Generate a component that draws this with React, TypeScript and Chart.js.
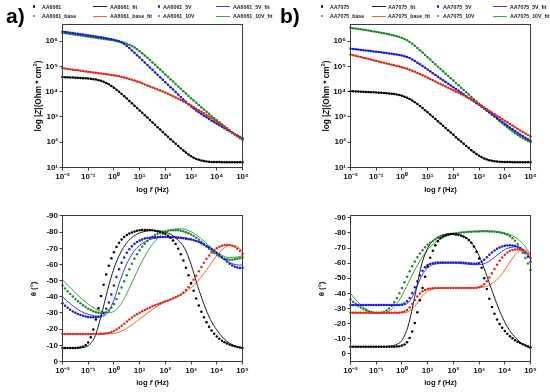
import React, { useEffect, useRef } from 'react';
import { Chart, registerables } from 'chart.js';

Chart.register(...registerables);

// ---------- data ----------
// log10 of frequency (Hz), measured points (10 per decade)
const LOG_F = [-2,-1.9,-1.8,-1.7,-1.6,-1.5,-1.4,-1.3,-1.2,-1.1,-1,-0.9,-0.8,-0.7,-0.6,-0.5,-0.4,-0.3,-0.2,-0.1,0,0.1,0.2,0.3,0.4,0.5,0.6,0.7,0.8,0.9,1,1.1,1.2,1.3,1.4,1.5,1.6,1.7,1.8,1.9,2,2.1,2.2,2.3,2.4,2.5,2.6,2.7,2.8,2.9,3,3.1,3.2,3.3,3.4,3.5,3.6,3.7,3.8,3.9,4,4.1,4.2,4.3,4.4,4.5,4.6,4.7,4.8,4.9,5];
// log10 of frequency (Hz), fitted phase curves
const LOG_F_FIT = [-2,-1.75,-1.5,-1.25,-1,-0.75,-0.5,-0.25,0,0.25,0.5,0.75,1,1.25,1.5,1.75,2,2.25,2.5,2.75,3,3.25,3.5,3.75,4,4.25,4.5,4.75,5];

const X_TICKS = [-2, -1, 0, 1, 2, 3, 4, 5];
const Z_TICKS = [1, 2, 3, 4, 5, 6];
const PHASE_TICKS = [-90, -80, -70, -60, -50, -40, -30, -20, -10, 0];

const LABELS_A = ['AA6061', 'AA6061_fit', 'AA6061_5V', 'AA6061_5V_fit', 'AA6061_base', 'AA6061_base_fit', 'AA6061_10V', 'AA6061_10V_fit'];
const LABELS_B = ['AA7075', 'AA7075_fit', 'AA7075_5V', 'AA7075_5V_fit', 'AA7075_base', 'AA7075_base_fit', 'AA7075_10V', 'AA7075_10V_fit'];

// log10 |Z| (Ohm cm2) — panel a
const A_Z_BARE = [4.58,4.575,4.57,4.565,4.559,4.554,4.548,4.542,4.536,4.529,4.52,4.51,4.497,4.48,4.458,4.429,4.392,4.345,4.292,4.229,4.158,4.08,3.997,3.91,3.82,3.729,3.636,3.542,3.448,3.354,3.259,3.165,3.07,2.975,2.88,2.785,2.69,2.595,2.5,2.406,2.311,2.217,2.123,2.03,1.938,1.847,1.758,1.672,1.591,1.516,1.448,1.39,1.341,1.303,1.274,1.253,1.239,1.229,1.222,1.218,1.215,1.213,1.212,1.211,1.21,1.21,1.21,1.21,1.21,1.21,1.21];
const A_Z_BASE = [4.93,4.92,4.9,4.89,4.87,4.86,4.85,4.83,4.82,4.8,4.79,4.78,4.76,4.75,4.73,4.72,4.71,4.69,4.68,4.66,4.65,4.63,4.61,4.585,4.56,4.53,4.5,4.47,4.44,4.405,4.37,4.33,4.29,4.25,4.21,4.17,4.13,4.09,4.05,4.005,3.96,3.915,3.87,3.82,3.77,3.72,3.67,3.615,3.56,3.505,3.45,3.39,3.33,3.27,3.21,3.145,3.08,3.015,2.95,2.88,2.81,2.74,2.67,2.6,2.53,2.46,2.39,2.32,2.255,2.19,2.13];
const A_Z_5V = [6.38,6.365,6.35,6.335,6.32,6.305,6.29,6.275,6.26,6.245,6.23,6.215,6.2,6.185,6.17,6.155,6.14,6.12,6.1,6.08,6.055,6.03,5.995,5.95,5.885,5.81,5.725,5.635,5.54,5.445,5.35,5.25,5.155,5.06,4.96,4.865,4.765,4.67,4.57,4.475,4.375,4.28,4.18,4.085,3.985,3.89,3.79,3.695,3.6,3.505,3.41,3.335,3.26,3.19,3.12,3.05,2.985,2.92,2.855,2.79,2.73,2.67,2.61,2.55,2.49,2.435,2.38,2.325,2.27,2.22,2.17];
const A_Z_10V = [6.32,6.31,6.3,6.285,6.27,6.255,6.24,6.225,6.21,6.195,6.18,6.165,6.15,6.135,6.12,6.105,6.09,6.075,6.06,6.045,6.03,6.01,5.99,5.965,5.935,5.9,5.86,5.81,5.75,5.68,5.605,5.52,5.43,5.34,5.25,5.16,5.065,4.97,4.875,4.78,4.685,4.59,4.495,4.4,4.305,4.21,4.115,4.02,3.925,3.83,3.74,3.65,3.56,3.47,3.38,3.295,3.21,3.125,3.04,2.955,2.87,2.79,2.71,2.63,2.55,2.47,2.39,2.31,2.235,2.16,2.085];

// phase (deg) — panel a, measured
const A_P_BARE = [-8.3,-8.3,-8.3,-8.3,-8.4,-8.4,-8.5,-8.8,-9.2,-10,-11.8,-15,-19.8,-26,-33,-40.5,-47.5,-53.8,-59.2,-63.8,-67.6,-70.8,-73.4,-75.4,-77,-78.2,-79.1,-79.8,-80.4,-80.8,-81.1,-81.3,-81.4,-81.4,-81.3,-81.1,-80.8,-80.5,-80.1,-79.5,-78.8,-77.8,-76.5,-74.8,-72.6,-69.8,-66.4,-62.4,-58,-53.3,-48.5,-43.7,-39,-34.7,-30.8,-27.3,-24.2,-21.5,-19.2,-17.2,-15.5,-14.1,-12.9,-11.9,-11.1,-10.4,-9.9,-9.4,-9,-8.7,-8.4];
const A_P_BASE = [-17,-17,-17,-17,-17,-17,-17,-17,-17,-17,-17,-17,-17,-17,-17,-17.1,-17.2,-17.4,-17.7,-18.2,-18.9,-19.8,-20.9,-22.1,-23.4,-24.7,-26,-27.2,-28.3,-29.3,-30.2,-31.1,-31.9,-32.7,-33.4,-34.1,-34.8,-35.4,-36,-36.6,-37.2,-37.8,-38.4,-39,-39.7,-40.5,-41.5,-42.7,-44.2,-46,-48.1,-50.5,-53.1,-55.8,-58.5,-61.1,-63.5,-65.6,-67.4,-68.9,-70.1,-71,-71.6,-72,-72.1,-72,-71.6,-70.9,-69.8,-68.4,-66.8];
const A_P_5V = [-36,-34.5,-33.2,-32,-31,-30.1,-29.4,-28.8,-28.3,-27.9,-27.6,-27.4,-27.3,-27.3,-27.6,-28.2,-29.8,-32.6,-36.5,-41.5,-47,-52.3,-57,-61,-64.4,-67.2,-69.5,-71.3,-72.8,-73.9,-74.8,-75.5,-76,-76.4,-76.6,-76.8,-76.9,-77,-77,-77,-77,-77,-76.9,-76.8,-76.7,-76.6,-76.4,-76.2,-75.9,-75.6,-75.4,-75,-74.5,-73.9,-73.2,-72.4,-71.5,-70.6,-69.6,-68.5,-67.3,-66,-64.6,-63.2,-61.8,-60.5,-59.4,-58.6,-58.1,-57.9,-58];
const A_P_10V = [-47,-45.2,-43.5,-41.8,-40.2,-38.7,-37.3,-36,-34.8,-33.7,-32.7,-31.8,-31.1,-30.5,-30.1,-29.9,-30,-30.5,-31.6,-33.3,-35.6,-38.6,-42,-45.8,-49.6,-53.4,-57,-60.4,-63.5,-66.3,-68.8,-71,-72.9,-74.6,-76,-77.2,-78.2,-79,-79.7,-80.2,-80.6,-80.9,-81.1,-81.2,-81.2,-81.1,-80.9,-80.5,-80,-79.3,-78.5,-77.6,-76.5,-75.3,-74,-72.6,-71.2,-69.8,-68.4,-67.1,-66,-65,-64.2,-63.6,-63.2,-63,-63,-63.2,-63.5,-63.9,-64.3];
// phase (deg) — panel a, fitted
const A_PF_BARE = [-8.3,-8.3,-8.3,-8.5,-9.8,-15,-28,-44,-57.5,-67,-73.5,-77.3,-79.5,-80.6,-81,-80.8,-80,-78.3,-75,-70,-60,-47,-35.5,-26,-19.5,-14.5,-11.3,-9.3,-8.3];
const A_PF_BASE = [-17,-17,-17,-17,-17,-17,-17,-17.1,-17.4,-18.5,-20.6,-23.3,-26.2,-29.3,-32.2,-34.8,-37,-38.8,-40.5,-42.5,-45.5,-49.5,-54.5,-60,-65.5,-69.7,-71.8,-71.2,-68.5];
const A_PF_5V = [-40,-36.5,-33.2,-30.8,-29.2,-28.3,-28,-30,-38,-50.5,-60.5,-67.5,-71.8,-74.4,-75.9,-76.6,-77,-77.1,-77,-76.6,-75.8,-74.3,-72.2,-69.5,-66.5,-63.6,-61.2,-59.8,-59.6];
const A_PF_10V = [-50.5,-46.5,-42.5,-38.8,-35.5,-32.8,-31,-30.2,-31,-35,-42,-50.5,-59,-66.5,-72.5,-77,-80,-81.6,-82.2,-81.8,-80.3,-77.8,-74.5,-70.8,-67.5,-65.3,-64.3,-64.5,-65.5];

// log10 |Z| (Ohm cm2) — panel b
const B_Z_BARE = [4.02,4.015,4.01,4.005,4,3.995,3.99,3.985,3.979,3.974,3.968,3.963,3.957,3.95,3.942,3.933,3.923,3.909,3.892,3.87,3.841,3.805,3.76,3.71,3.651,3.585,3.512,3.434,3.353,3.268,3.183,3.095,3.007,2.918,2.829,2.738,2.649,2.56,2.471,2.381,2.292,2.202,2.113,2.025,1.938,1.852,1.767,1.686,1.608,1.535,1.469,1.41,1.36,1.32,1.288,1.265,1.247,1.235,1.227,1.221,1.217,1.215,1.213,1.212,1.211,1.21,1.21,1.21,1.21,1.21,1.21];
const B_Z_BASE = [5.47,5.445,5.42,5.395,5.37,5.345,5.32,5.295,5.27,5.245,5.22,5.195,5.17,5.145,5.12,5.095,5.07,5.045,5.02,4.995,4.97,4.94,4.905,4.87,4.83,4.79,4.745,4.7,4.655,4.605,4.555,4.505,4.455,4.405,4.355,4.305,4.255,4.205,4.155,4.105,4.055,4.005,3.955,3.905,3.855,3.8,3.745,3.69,3.63,3.57,3.505,3.44,3.375,3.31,3.245,3.18,3.115,3.05,2.985,2.92,2.855,2.79,2.725,2.66,2.595,2.53,2.465,2.405,2.345,2.285,2.225];
const B_Z_5V = [5.7,5.69,5.68,5.67,5.655,5.645,5.635,5.62,5.61,5.595,5.585,5.57,5.56,5.545,5.53,5.515,5.5,5.485,5.47,5.45,5.43,5.4,5.37,5.33,5.275,5.215,5.15,5.085,5.015,4.945,4.875,4.805,4.735,4.665,4.595,4.525,4.455,4.385,4.315,4.245,4.175,4.105,4.035,3.965,3.895,3.825,3.755,3.685,3.615,3.545,3.475,3.405,3.335,3.26,3.185,3.11,3.035,2.96,2.885,2.81,2.735,2.66,2.585,2.51,2.44,2.375,2.31,2.245,2.18,2.12,2.06];
const B_Z_10V = [6.53,6.515,6.5,6.485,6.47,6.455,6.44,6.42,6.4,6.385,6.37,6.35,6.33,6.31,6.29,6.27,6.245,6.22,6.195,6.17,6.13,6.09,6.035,5.97,5.895,5.815,5.73,5.64,5.55,5.455,5.36,5.27,5.175,5.085,4.99,4.9,4.805,4.715,4.62,4.53,4.44,4.345,4.255,4.16,4.07,3.98,3.885,3.795,3.7,3.61,3.52,3.43,3.345,3.26,3.175,3.09,3.005,2.92,2.835,2.75,2.67,2.59,2.51,2.435,2.36,2.29,2.225,2.165,2.11,2.06,2.01];

// phase (deg) — panel b, measured
const B_P_BARE = [-4.8,-4.8,-4.8,-4.8,-4.8,-4.8,-4.8,-4.8,-4.8,-4.8,-4.8,-4.8,-4.8,-4.8,-4.8,-4.8,-4.8,-4.8,-4.9,-5.1,-5.5,-6.3,-7.8,-10.5,-14.8,-20.5,-27.5,-35.5,-43.5,-51,-57.8,-63.5,-68.2,-71.8,-74.5,-76.4,-77.7,-78.5,-79,-79.2,-79.2,-79,-78.6,-78.1,-77.5,-76.6,-75.3,-73.5,-71,-67.5,-63,-57,-50,-43,-36.5,-31,-26.5,-22.8,-19.8,-17.3,-15.2,-13.3,-11.7,-10.3,-9.1,-8.1,-7.2,-6.4,-5.7,-5.1,-4.5];
const B_P_BASE = [-27.2,-27.2,-27.2,-27.2,-27.2,-27.2,-27.2,-27.2,-27.2,-27.2,-27.2,-27.2,-27.2,-27.2,-27.2,-27.2,-27.2,-27.2,-27.2,-27.3,-27.5,-28,-29,-30.7,-33,-35.6,-38,-40,-41.4,-42.3,-42.9,-43.2,-43.4,-43.5,-43.5,-43.6,-43.6,-43.6,-43.6,-43.6,-43.6,-43.6,-43.6,-43.5,-43.5,-43.5,-43.5,-43.5,-43.6,-43.7,-44,-44.7,-46,-48,-50.5,-53.3,-56.2,-59,-61.6,-63.8,-65.6,-67,-68,-68.7,-69.1,-69.2,-69,-68.4,-67.3,-65.6,-63.3];
const B_P_5V = [-32.3,-32.3,-32.3,-32.3,-32.3,-32.3,-32.3,-32.3,-32.3,-32.3,-32.3,-32.3,-32.3,-32.3,-32.3,-32.3,-32.3,-32.3,-32.3,-32.4,-32.7,-33.4,-34.8,-37,-40.2,-44,-48,-51.8,-55,-57.3,-58.7,-59.5,-60,-60.3,-60.4,-60.5,-60.5,-60.5,-60.5,-60.5,-60.5,-60.5,-60.4,-60.4,-60.3,-60.1,-59.9,-59.7,-59.6,-59.7,-60.1,-61,-62.3,-63.9,-65.6,-67.1,-68.4,-69.5,-70.4,-71,-71.5,-71.7,-71.8,-71.7,-71.4,-70.8,-69.9,-68.6,-66.7,-64.2,-61];
const B_P_10V = [-36,-34.5,-33.1,-31.8,-30.7,-29.7,-28.9,-28.2,-27.7,-27.3,-27.1,-27.1,-27.3,-27.8,-28.7,-30,-31.8,-34.1,-36.9,-40.1,-43.6,-47.3,-51,-54.6,-58,-61.1,-63.9,-66.4,-68.6,-70.5,-72.1,-73.5,-74.7,-75.7,-76.6,-77.3,-77.9,-78.4,-78.8,-79.2,-79.5,-79.8,-80,-80.2,-80.4,-80.6,-80.7,-80.8,-80.9,-81,-81,-81.1,-81.1,-81.1,-81,-80.9,-80.8,-80.6,-80.3,-79.9,-79.4,-78.7,-77.8,-76.5,-74.8,-72.6,-69.9,-66.8,-63.4,-59.7,-55.7];
// phase (deg) — panel b, fitted
const B_PF_BARE = [-4.8,-4.8,-4.8,-4.8,-4.8,-4.9,-5.1,-6,-9,-19,-38,-58,-70,-75.5,-78.2,-79.3,-79.5,-78.8,-76.8,-72.5,-65,-54,-42,-30.5,-21,-14,-9.3,-5.8,-3.5];
const B_PF_BASE = [-27.2,-27.2,-27.2,-27.2,-27.2,-27.2,-27.2,-27.2,-27.2,-28,-31.5,-37.5,-41.5,-43,-43.5,-43.6,-43.6,-43.6,-43.6,-43.7,-43.9,-44.5,-46.5,-50,-55.5,-62,-67.3,-68.8,-65.5];
const B_PF_5V = [-32.3,-32.3,-32.3,-32.3,-32.3,-32.3,-32.3,-32.3,-32.3,-34,-41,-51,-57,-59.2,-59.8,-60,-60,-59.8,-59.4,-59,-59,-60,-62.5,-66,-69,-70.5,-70.8,-68.8,-63.5];
const B_PF_10V = [-40,-35,-31,-28.3,-27,-26.9,-28.3,-32,-38.5,-47,-55.5,-63,-68.8,-73,-76,-78,-79.2,-80,-80.6,-81,-81.2,-81.3,-81.2,-80.8,-80,-78.6,-76,-72,-65.5];

// ---------- styles ----------
const FONT = '"Liberation Sans", Arial, Helvetica, sans-serif';
const COL = {
  blackPt: '#000000', blackLn: '#1e1e1e',
  redPt: '#d92a1c', redLn: '#e8642e',
  bluePt: '#1a1ad0', blueLn: '#3b3bf4',
  greenPt: '#1f8a2c', greenLn: '#47a247',
};

const SUP: Record<string, string> = { '-': '\u207B', '0': '\u2070', '1': '\u00B9', '2': '\u00B2', '3': '\u00B3', '4': '\u2074', '5': '\u2075', '6': '\u2076' };
const powLabel = (v: number) => '10' + String(v).split('').map((c) => SUP[c] ?? c).join('');

type Rect = { l: number; t: number; r: number; b: number };
type Group = { pts: number[]; ptX: number[]; fit: number[]; fitX: number[]; ptColor: string; lnColor: string; smooth: boolean };
type Spec = { plot: Rect; yMin: number; yMax: number; yTicks: number[]; yLog: boolean; reverse: boolean; groups: Group[] };

function canvasBox(p: Rect) {
  const cl = Math.floor(p.l) - 50;
  const ct = Math.floor(p.t) - 10;
  const cr = Math.ceil(p.r) + 14;
  const cb = Math.ceil(p.b) + 22;
  return { cl, ct, w: cr - cl, h: cb - ct, yW: p.l - cl, padT: p.t - ct, padR: cr - p.r, xH: cb - p.b };
}

const framePlugin = {
  id: 'frame',
  afterDraw(chart: any) {
    const { ctx, chartArea } = chart;
    const { left, top, right, bottom } = chartArea;
    ctx.save();
    ctx.strokeStyle = '#3a3a3a';
    ctx.lineWidth = 1;
    ctx.strokeRect(left, top, right - left, bottom - top);
    ctx.restore();
  },
};

function zGroups(bare: number[], base: number[], v5: number[], v10: number[]): Group[] {
  return [
    { pts: bare, ptX: LOG_F, fit: bare, fitX: LOG_F, ptColor: COL.blackPt, lnColor: COL.blackLn, smooth: false },
    { pts: base, ptX: LOG_F, fit: base, fitX: LOG_F, ptColor: COL.redPt, lnColor: COL.redLn, smooth: false },
    { pts: v5, ptX: LOG_F, fit: v5, fitX: LOG_F, ptColor: COL.bluePt, lnColor: COL.blueLn, smooth: false },
    { pts: v10, ptX: LOG_F, fit: v10, fitX: LOG_F, ptColor: COL.greenPt, lnColor: COL.greenLn, smooth: false },
  ];
}
function pGroups(d: number[][], f: number[][]): Group[] {
  const cols = [[COL.blackPt, COL.blackLn], [COL.redPt, COL.redLn], [COL.bluePt, COL.blueLn], [COL.greenPt, COL.greenLn]];
  return d.map((pts, i) => ({ pts, ptX: LOG_F, fit: f[i], fitX: LOG_F_FIT, ptColor: cols[i][0], lnColor: cols[i][1], smooth: true }));
}

const PANELS: Spec[] = [
  { plot: { l: 62.5, t: 24.5, r: 242.5, b: 167.5 }, yMin: 1, yMax: 6.66, yTicks: Z_TICKS, yLog: true, reverse: false,
    groups: zGroups(A_Z_BARE, A_Z_BASE, A_Z_5V, A_Z_10V) },
  { plot: { l: 62.5, t: 215.5, r: 242.5, b: 361.5 }, yMin: -90.3, yMax: 0, yTicks: PHASE_TICKS, yLog: false, reverse: true,
    groups: pGroups([A_P_BARE, A_P_BASE, A_P_5V, A_P_10V], [A_PF_BARE, A_PF_BASE, A_PF_5V, A_PF_10V]) },
  { plot: { l: 350.5, t: 24.5, r: 530.5, b: 167.5 }, yMin: 1, yMax: 6.66, yTicks: Z_TICKS, yLog: true, reverse: false,
    groups: zGroups(B_Z_BARE, B_Z_BASE, B_Z_5V, B_Z_10V) },
  { plot: { l: 350.5, t: 215.5, r: 530.5, b: 361.5 }, yMin: -91.5, yMax: 5, yTicks: PHASE_TICKS, yLog: false, reverse: true,
    groups: pGroups([B_P_BARE, B_P_BASE, B_P_5V, B_P_10V], [B_PF_BARE, B_PF_BASE, B_PF_5V, B_PF_10V]) },
];

function makeConfig(spec: Spec): any {
  const box = canvasBox(spec.plot);
  const tickFont = { family: FONT, size: 8, weight: 'bold' as const };
  const datasets: any[] = [];
  spec.groups.forEach((g) => {
    datasets.push({
      data: g.ptX.map((x, i) => ({ x, y: g.pts[i] })),
      showLine: false, pointRadius: 1.25, pointHoverRadius: 0, pointBorderWidth: 0,
      pointBackgroundColor: g.ptColor, backgroundColor: g.ptColor, borderColor: g.ptColor,
      order: 0, clip: false,
    });
  });
  spec.groups.forEach((g) => {
    datasets.push({
      data: g.fitX.map((x, i) => ({ x, y: g.fit[i] })),
      showLine: true, pointRadius: 0, pointHoverRadius: 0, borderColor: g.lnColor, borderWidth: 1,
      cubicInterpolationMode: g.smooth ? 'monotone' : 'default', tension: 0, fill: false,
      order: 1, clip: 1,
    });
  });
  const gridOpts = { display: true, drawOnChartArea: false, drawTicks: true, tickLength: 3, color: '#3a3a3a', lineWidth: 1 };
  return {
    type: 'scatter',
    data: { datasets },
    options: {
      animation: false, responsive: false, maintainAspectRatio: false, devicePixelRatio: 1, events: [],
      layout: { padding: { left: 0, top: box.padT, right: box.padR, bottom: 0 } },
      plugins: { legend: { display: false }, tooltip: { enabled: false }, title: { display: false } },
      scales: {
        x: {
          type: 'linear', min: -2, max: 5,
          afterBuildTicks: (s: any) => { s.ticks = X_TICKS.map((v) => ({ value: v })); },
          afterFit: (s: any) => { s.height = box.xH; s.paddingLeft = 0; s.paddingRight = 0; },
          ticks: { callback: (v: any) => powLabel(Number(v)), font: tickFont, color: '#111', padding: 1, maxRotation: 0, autoSkip: false },
          grid: gridOpts, border: { display: false },
        },
        y: {
          type: 'linear', min: spec.yMin, max: spec.yMax, reverse: spec.reverse,
          afterBuildTicks: (s: any) => { s.ticks = spec.yTicks.map((v) => ({ value: v })); },
          afterFit: (s: any) => { s.width = box.yW; s.paddingTop = 0; s.paddingBottom = 0; },
          ticks: { callback: (v: any) => (spec.yLog ? powLabel(Number(v)) : String(v)), font: tickFont, color: '#111', padding: 1.5, autoSkip: false },
          grid: gridOpts, border: { display: false },
        },
      },
    },
    plugins: [framePlugin],
  };
}

const LEG_ROW_Y = [6.5, 16];
const LEG_A = { markX: [34, 93, 159, 216], textX: [42, 110, 163, 233] };
const LEG_B = { markX: [322, 372, 438, 493], textX: [330, 388, 443, 510] };
const LEG_COLORS = [COL.blackPt, COL.blackLn, COL.bluePt, COL.blueLn, COL.redPt, COL.redLn, COL.greenPt, COL.greenLn];

function Legend({ labels, pos }: { labels: string[]; pos: { markX: number[]; textX: number[] } }) {
  return (
    <>
      {labels.map((lab, i) => {
        const row = i < 4 ? 0 : 1;
        const col = i % 4;
        const y = LEG_ROW_Y[row];
        const isLine = col % 2 === 1;
        const color = LEG_COLORS[i];
        return (
          <React.Fragment key={lab}>
            {isLine ? (
              <div style={{ position: 'absolute', left: pos.markX[col], top: y - 0.5, width: 14, height: 1, background: color }} />
            ) : (
              <div style={{ position: 'absolute', left: pos.markX[col] - 1.2, top: y - 1.2, width: 2.4, height: 2.4, borderRadius: '50%', background: color }} />
            )}
            <div style={{ position: 'absolute', left: pos.textX[col], top: y - 4, lineHeight: '8px', fontSize: 7, fontWeight: 'bold', color: '#222', whiteSpace: 'nowrap', transform: 'scale(0.75)', transformOrigin: 'left center' }}>{lab}</div>
          </React.Fragment>
        );
      })}
    </>
  );
}

const titleBase: React.CSSProperties = { position: 'absolute', whiteSpace: 'nowrap', fontWeight: 'bold', color: '#111', lineHeight: '10px' };

function YTitle({ x, y, children, size }: { x: number; y: number; children: React.ReactNode; size: number }) {
  return <div style={{ ...titleBase, left: x, top: y, fontSize: size, transform: 'translate(-50%,-50%) rotate(-90deg)' }}>{children}</div>;
}
function XTitle({ x, y }: { x: number; y: number }) {
  return <div style={{ ...titleBase, left: x, top: y, fontSize: 7.6, transform: 'translate(-50%,-50%)' }}>log <i>f</i> (Hz)</div>;
}
const zTitle = <>log |<i>Z</i>|(Ohm * cm<sup style={{ fontSize: '70%', lineHeight: 0 }}>2</sup>)</>;
const pTitle = <>θ (°)</>;

export default function App() {
  const r0 = useRef<HTMLCanvasElement>(null);
  const r1 = useRef<HTMLCanvasElement>(null);
  const r2 = useRef<HTMLCanvasElement>(null);
  const r3 = useRef<HTMLCanvasElement>(null);
  const refs = [r0, r1, r2, r3];

  useEffect(() => {
    const charts = PANELS.map((spec, i) => new Chart(refs[i].current as HTMLCanvasElement, makeConfig(spec)));
    return () => charts.forEach((c) => c.destroy());
  }, []);

  return (
    <div style={{ position: 'fixed', left: 0, top: 0, width: 550, height: 392, background: '#fff', overflow: 'hidden', fontFamily: FONT }}>
      {PANELS.map((spec, i) => {
        const b = canvasBox(spec.plot);
        return (
          <canvas key={i} ref={refs[i]} width={b.w} height={b.h}
            style={{ position: 'absolute', left: b.cl, top: b.ct, width: b.w, height: b.h }} />
        );
      })}
      <div style={{ position: 'absolute', left: 6, top: 4, fontSize: 21, lineHeight: '24px', fontWeight: 'bold', color: '#000' }}>a)</div>
      <div style={{ position: 'absolute', left: 280, top: 4, fontSize: 21, lineHeight: '24px', fontWeight: 'bold', color: '#000' }}>b)</div>
      <Legend labels={LABELS_A} pos={LEG_A} />
      <Legend labels={LABELS_B} pos={LEG_B} />
      <YTitle x={38.5} y={96} size={8.2}>{zTitle}</YTitle>
      <YTitle x={327} y={96} size={8.2}>{zTitle}</YTitle>
      <YTitle x={33.5} y={289} size={7.8}>{pTitle}</YTitle>
      <YTitle x={322} y={289} size={7.8}>{pTitle}</YTitle>
      <XTitle x={152.5} y={190} />
      <XTitle x={440.5} y={190} />
      <XTitle x={152.5} y={382.5} />
      <XTitle x={440.5} y={382.5} />
    </div>
  );
}
